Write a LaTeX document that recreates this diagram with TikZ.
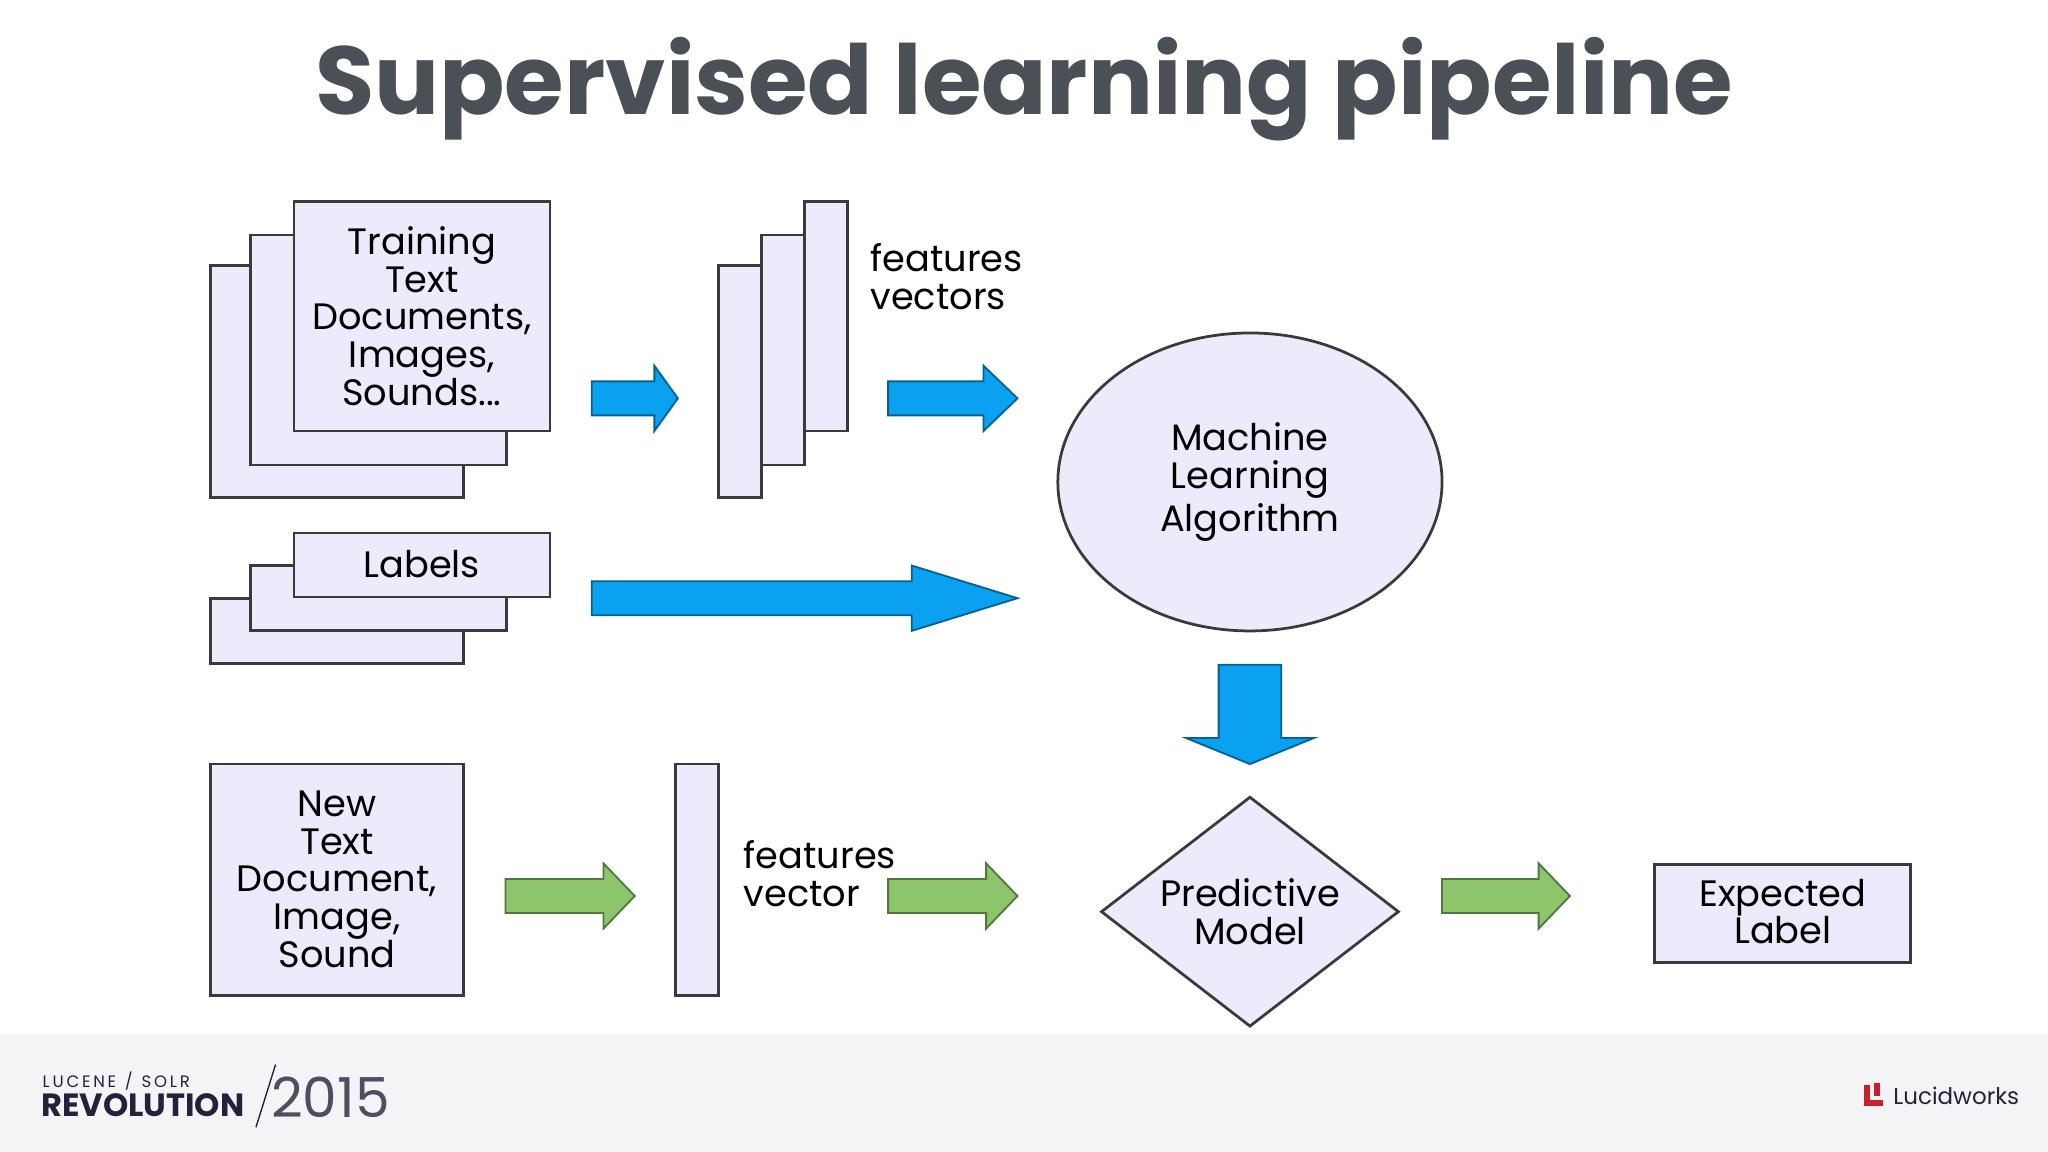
\documentclass[tikz,border=0pt]{standalone}
\usepackage{fontspec}
\setmainfont{Poppins}
\usetikzlibrary{shapes.geometric}
\definecolor{boxfill}{HTML}{ECEAFB}
\definecolor{boxline}{HTML}{3A3A3A}
\definecolor{titlegray}{HTML}{4B4F56}
\definecolor{arrblue}{HTML}{0AA2F0}
\definecolor{arrgreen}{HTML}{8CC56C}
\definecolor{footbg}{HTML}{F4F4F6}
\definecolor{navy}{HTML}{22223A}
\definecolor{lwred}{HTML}{C8202A}
\begin{document}
\begin{tikzpicture}[x=0.01cm,y=-0.01cm,
  box/.style={draw=boxline,fill=boxfill,line width=0.6pt},
  lbl/.style={font=\fontsize{8}{8.2}\selectfont,align=center,text=black},
  harr/.style={draw=#1!60!black,fill=#1,line width=0.4pt}]
\useasboundingbox (0,0) rectangle (1568,882);
\fill[white] (0,0) rectangle (1568,792);
\fill[footbg] (0,792) rectangle (1568,882);
\node[text=titlegray,font=\fontsize{21}{21}\selectfont\bfseries] (title) at (784,68) {Supervised learning pipeline};
% training stack
\draw[box] (161,203) rectangle (355,381);
\draw[box] (192,180) rectangle (388,356);
\draw[box] (225,154) rectangle (421,330);
\node[lbl] (train) at (323,242) {Training\\Text\\Documents,\\Images,\\Sounds...};
% labels stack
\draw[box] (161,458) rectangle (355,508);
\draw[box] (192,433) rectangle (388,483);
\draw[box] (225,408) rectangle (421,457);
\node[lbl] (labels) at (323,432) {Labels};
% feature vectors stack
\draw[box] (550,203) rectangle (583,381);
\draw[box] (583,180) rectangle (616,356);
\draw[box] (616,154) rectangle (649,330);
\node[lbl,align=left,anchor=west] (fv) at (654,212) {features\\vectors};
% ML algorithm
\node[box,ellipse,minimum width=2.94cm,minimum height=2.28cm,inner sep=0] (mla) at (957,369) {};
\node[lbl] (mltext) at (957,369) {Machine\\Learning\\Algorithm};
% blue arrows
\draw[harr=arrblue] (453,292) -- (501,292) -- (501,280) -- (519,305) -- (501,330) -- (501,318) -- (453,318) -- cycle;
\draw[harr=arrblue] (680,292) -- (753,292) -- (753,280) -- (779,305) -- (753,330) -- (753,318) -- (680,318) -- cycle;
\draw[harr=arrblue] (453,445) -- (698,445) -- (698,433) -- (779,458) -- (698,483) -- (698,471) -- (453,471) -- cycle;
\draw[harr=arrblue] (933,509) -- (981,509) -- (981,565) -- (1006,565) -- (957,585) -- (908,565) -- (933,565) -- cycle;
% bottom row
\draw[box] (161,585) rectangle (355,762);
\node[lbl] (newdoc) at (258,673) {New\\Text\\Document,\\Image,\\Sound};
\draw[box] (517,585) rectangle (550,762);
\node[lbl,align=left,anchor=west] (fv2) at (557,669) {features\\vector};
\node[box,diamond,minimum width=2.28cm,minimum height=1.76cm,aspect=1.3,inner sep=0] (pm) at (957,698) {};
\node[lbl] (pmtext) at (957,698) {Predictive\\Model};
\draw[box] (1267,662) rectangle (1463,737);
\node[lbl] (exp) at (1365,698) {Expected\\Label};
% green arrows
\draw[harr=arrgreen] (387,673) -- (462,673) -- (462,661) -- (486,686) -- (462,711) -- (462,699) -- (387,699) -- cycle;
\draw[harr=arrgreen] (680,673) -- (755,673) -- (755,661) -- (779,686) -- (755,711) -- (755,699) -- (680,699) -- cycle;
\draw[harr=arrgreen] (1104,673) -- (1178,673) -- (1178,661) -- (1202,686) -- (1178,711) -- (1178,699) -- (1104,699) -- cycle;
% footer logos
\node[text=navy,font=\fontsize{3.6}{4}\selectfont,anchor=west,inner sep=0] (lucene) at (32,828) {L\,U\,C\,E\,N\,E\ \ /\ \ S\,O\,L\,R};
\node[text=navy,font=\fontsize{7}{7}\selectfont\bfseries,anchor=west,inner sep=0] (rev) at (31,846) {REVOLUTION};
\draw[navy,line width=0.3pt] (211,815) -- (196,863);
\node[text=navy!80,font=\fontsize{12}{12}\selectfont,anchor=west,inner sep=0] (year) at (207,840) {2015};
\fill[lwred] (1427,831) rectangle (1432,847);
\fill[lwred] (1427,842) rectangle (1442,847);
\fill[lwred] (1435,829) rectangle (1439,839);
\node[text=navy,font=\fontsize{5}{5}\selectfont,anchor=west,inner sep=0] (lw) at (1449,839) {Lucidworks};
\end{tikzpicture}
\end{document}
